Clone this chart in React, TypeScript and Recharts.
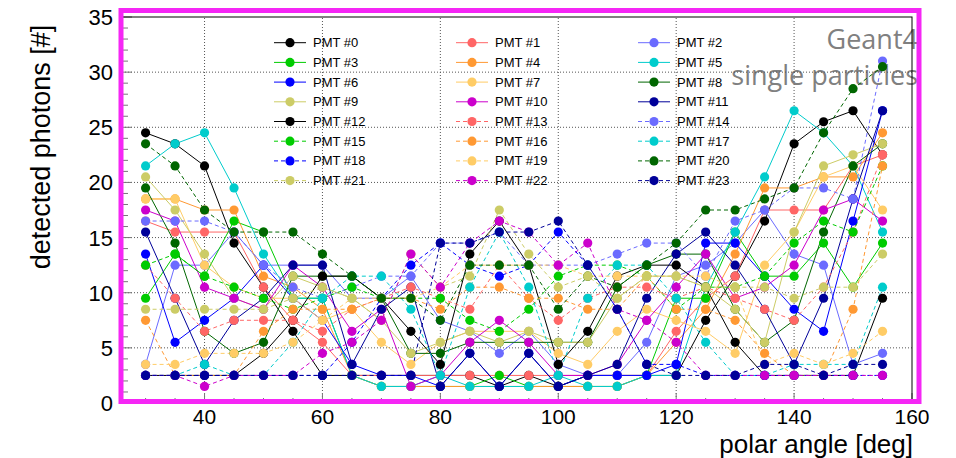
import React from 'react';
import { LineChart, Line, XAxis, YAxis, ReferenceLine } from 'recharts';

// polar angle [deg]
const angles = [30, 35, 40, 45, 50, 55, 60, 65, 70, 75, 80, 85, 90, 95, 100, 105, 110, 115, 120, 125, 130, 135, 140, 145, 150, 155];

const pmt0 = [24.5, 23.5, 21.5, 14.5, 10.5, 6.5, 2.5, 2.5, 2.5, 2.5, 2.5, 2.5, 1.5, 2.5, 1.5, 2.5, 2.5, 2.5, 2.5, 7.5, 11.5, 16.5, 23.5, 25.5, 26.5, 22.5];
const pmt1 = [16.5, 15.5, 15.5, 15.5, 10.5, 7.5, 5.5, 2.5, 2.5, 2.5, 2.5, 2.5, 2.5, 2.5, 2.5, 2.5, 2.5, 2.5, 6.5, 9.5, 11.5, 17.5, 17.5, 17.5, 21.5, 22.5];
const pmt2 = [3.5, 12.5, 12.5, 15.5, 12.5, 12.5, 12.5, 9.5, 9.5, 11.5, 7.5, 6.5, 4.5, 6.5, 3.5, 2.5, 2.5, 5.5, 11.5, 12.5, 14.5, 17.5, 13.5, 12.5, 3.5, 4.5];
const pmt3 = [9.5, 13.5, 11.5, 16.5, 15.5, 9.5, 9.5, 2.5, 1.5, 1.5, 1.5, 1.5, 2.5, 1.5, 1.5, 1.5, 1.5, 2.5, 9.5, 9.5, 15.5, 11.5, 11.5, 14.5, 10.5, 14.5];
const pmt4 = [18.5, 18.5, 17.5, 17.5, 11.5, 10.5, 8.5, 2.5, 1.5, 1.5, 1.5, 1.5, 1.5, 1.5, 1.5, 1.5, 1.5, 2.5, 5.5, 8.5, 13.5, 19.5, 19.5, 20.5, 20.5, 24.5];
const pmt5 = [21.5, 23.5, 24.5, 19.5, 13.5, 9.5, 9.5, 2.5, 1.5, 1.5, 2.5, 1.5, 1.5, 1.5, 2.5, 1.5, 1.5, 2.5, 2.5, 10.5, 15.5, 20.5, 26.5, 24.5, 21.5, 15.5];
const pmt6 = [13.5, 5.5, 7.5, 9.5, 12.5, 9.5, 7.5, 3.5, 2.5, 2.5, 1.5, 4.5, 1.5, 4.5, 1.5, 2.5, 2.5, 2.5, 3.5, 14.5, 14.5, 11.5, 8.5, 6.5, 16.5, 26.5];
const pmt7 = [18.5, 18.5, 12.5, 10.5, 9.5, 9.5, 7.5, 8.5, 5.5, 3.5, 5.5, 6.5, 6.5, 6.5, 4.5, 3.5, 6.5, 8.5, 7.5, 6.5, 4.5, 12.5, 15.5, 20.5, 21.5, 17.5];
const pmt8 = [19.5, 14.5, 6.5, 4.5, 5.5, 11.5, 11.5, 11.5, 9.5, 4.5, 4.5, 5.5, 5.5, 5.5, 5.5, 5.5, 10.5, 12.5, 13.5, 13.5, 8.5, 5.5, 7.5, 15.5, 21.5, 23.5];
const pmt9 = [20.5, 17.5, 13.5, 9.5, 8.5, 11.5, 10.5, 9.5, 7.5, 4.5, 5.5, 6.5, 5.5, 6.5, 5.5, 5.5, 9.5, 11.5, 11.5, 10.5, 8.5, 5.5, 15.5, 21.5, 22.5, 23.5];
const pmt10 = [17.5, 16.5, 10.5, 9.5, 8.5, 12.5, 10.5, 6.5, 8.5, 1.5, 2.5, 5.5, 7.5, 5.5, 2.5, 2.5, 3.5, 7.5, 10.5, 13.5, 9.5, 10.5, 12.5, 17.5, 18.5, 16.5];
const pmt11 = [15.5, 9.5, 3.5, 7.5, 9.5, 12.5, 12.5, 3.5, 8.5, 10.5, 1.5, 4.5, 1.5, 4.5, 1.5, 2.5, 3.5, 9.5, 13.5, 15.5, 12.5, 8.5, 3.5, 9.5, 18.5, 26.5];
const pmt12 = [2.5, 2.5, 2.5, 2.5, 4.5, 7.5, 11.5, 11.5, 9.5, 6.5, 3.5, 13.5, 16.5, 12.5, 3.5, 6.5, 11.5, 12.5, 12.5, 10.5, 5.5, 2.5, 2.5, 2.5, 2.5, 9.5];
const pmt13 = [12.5, 9.5, 6.5, 7.5, 7.5, 7.5, 6.5, 8.5, 9.5, 10.5, 9.5, 8.5, 12.5, 9.5, 7.5, 9.5, 10.5, 10.5, 9.5, 10.5, 9.5, 8.5, 7.5, 10.5, 15.5, 22.5];
const pmt14 = [16.5, 16.5, 16.5, 15.5, 12.5, 10.5, 9.5, 10.5, 11.5, 11.5, 14.5, 14.5, 15.5, 12.5, 12.5, 12.5, 13.5, 14.5, 14.5, 11.5, 16.5, 17.5, 19.5, 19.5, 18.5, 31.0];
const pmt15 = [12.5, 13.5, 11.5, 10.5, 9.5, 8.5, 9.5, 10.5, 9.5, 9.5, 9.5, 7.5, 6.5, 8.5, 11.5, 12.5, 12.5, 11.5, 8.5, 10.5, 10.5, 11.5, 14.5, 16.5, 15.5, 21.5];
const pmt16 = [7.5, 2.5, 2.5, 2.5, 6.5, 8.5, 8.5, 8.5, 9.5, 9.5, 8.5, 10.5, 10.5, 9.5, 9.5, 8.5, 8.5, 11.5, 8.5, 8.5, 7.5, 4.5, 2.5, 2.5, 8.5, 21.5];
const pmt17 = [2.5, 2.5, 3.5, 2.5, 2.5, 5.5, 9.5, 11.5, 11.5, 8.5, 2.5, 10.5, 15.5, 10.5, 2.5, 9.5, 12.5, 12.5, 9.5, 5.5, 2.5, 2.5, 3.5, 3.5, 3.5, 10.5];
const pmt18 = [2.5, 2.5, 2.5, 2.5, 2.5, 2.5, 2.5, 5.5, 9.5, 12.5, 14.5, 12.5, 11.5, 12.5, 15.5, 12.5, 8.5, 3.5, 3.5, 2.5, 2.5, 2.5, 2.5, 2.5, 2.5, 2.5];
const pmt19 = [3.5, 3.5, 4.5, 4.5, 4.5, 5.5, 7.5, 9.5, 9.5, 9.5, 10.5, 12.5, 12.5, 12.5, 12.5, 11.5, 11.5, 11.5, 11.5, 11.5, 10.5, 3.5, 4.5, 3.5, 4.5, 6.5];
const pmt20 = [23.5, 21.5, 17.5, 15.5, 15.5, 15.5, 13.5, 11.5, 9.5, 9.5, 7.5, 12.5, 12.5, 12.5, 8.5, 11.5, 10.5, 12.5, 14.5, 17.5, 17.5, 18.5, 19.5, 24.5, 28.5, 30.5];
const pmt21 = [8.5, 8.5, 8.5, 8.5, 8.5, 9.5, 10.5, 9.5, 7.5, 13.5, 10.5, 11.5, 17.5, 13.5, 10.5, 11.5, 9.5, 11.5, 11.5, 10.5, 10.5, 10.5, 9.5, 10.5, 10.5, 13.5];
const pmt22 = [2.5, 2.5, 1.5, 2.5, 2.5, 2.5, 4.5, 5.5, 7.5, 13.5, 10.5, 14.5, 16.5, 15.5, 12.5, 14.5, 8.5, 7.5, 5.5, 2.5, 2.5, 2.5, 2.5, 2.5, 2.5, 2.5];
const pmt23 = [2.5, 2.5, 2.5, 2.5, 2.5, 2.5, 2.5, 2.5, 2.5, 2.5, 14.5, 14.5, 15.5, 15.5, 16.5, 12.5, 8.5, 3.5, 2.5, 2.5, 2.5, 3.5, 3.5, 2.5, 3.5, 3.5];

const seriesValues = [pmt0, pmt1, pmt2, pmt3, pmt4, pmt5, pmt6, pmt7, pmt8, pmt9, pmt10, pmt11,
  pmt12, pmt13, pmt14, pmt15, pmt16, pmt17, pmt18, pmt19, pmt20, pmt21, pmt22, pmt23];
const seriesNames = ['PMT #0', 'PMT #1', 'PMT #2', 'PMT #3', 'PMT #4', 'PMT #5', 'PMT #6', 'PMT #7',
  'PMT #8', 'PMT #9', 'PMT #10', 'PMT #11', 'PMT #12', 'PMT #13', 'PMT #14', 'PMT #15', 'PMT #16',
  'PMT #17', 'PMT #18', 'PMT #19', 'PMT #20', 'PMT #21', 'PMT #22', 'PMT #23'];

const xTicks = [30, 35, 40, 45, 50, 55, 60, 65, 70, 75, 80, 85, 90, 95, 100, 105, 110, 115, 120, 125, 130, 135, 140, 145, 150, 155, 160];
const xLabelTicks = [40, 60, 80, 100, 120, 140, 160];
const yTicks = [0, 1, 2, 3, 4, 5, 6, 7, 8, 9, 10, 11, 12, 13, 14, 15, 16, 17, 18, 19, 20, 21, 22, 23, 24, 25, 26, 27, 28, 29, 30, 31, 32, 33, 34, 35];
const xGrid = [40, 60, 80, 100, 120, 140];
const yGrid = [5, 10, 15, 20, 25, 30];

const palette = ['#000000', '#ff6666', '#6b6bff', '#00cc00', '#ff9933', '#00cccc',
  '#0000ff', '#ffcc66', '#006600', '#cccc66', '#cc00cc', '#000099'];

const W = 956;
const H = 458;
const PL = 122;
const PR = 912;
const PT = 17;
const PB = 403;
const FONT = '"Liberation Sans", Arial, Helvetica, sans-serif';
const MAGENTA = '#f526f5';

const rows = angles.map((a, i) => {
  const r: Record<string, number> = { angle: a };
  seriesValues.forEach((s, k) => { r['p' + k] = s[i]; });
  return r;
});

const colorOf = (k: number) => palette[k % 12];
const dashOf = (k: number) => (k >= 13 ? '4 3' : undefined);

const YTick = (props: any) => {
  const { y, payload } = props;
  const v = payload.value;
  const major = v % 5 === 0;
  return (
    <g>
      <line x1={PL} x2={PL + (major ? 10 : 6)} y1={y} y2={y} stroke="#777" strokeWidth={1} />
      {major && (
        <text x={113} y={y + 8} textAnchor="end" fontSize={22} fontFamily={FONT} fill="#000">{v}</text>
      )}
    </g>
  );
};

const XTick = (props: any) => {
  const { x, payload } = props;
  const v = payload.value;
  const major = xLabelTicks.includes(v);
  return (
    <g>
      <line x1={x} x2={x} y1={PB} y2={PB - (major ? 10 : 5)} stroke="#777" strokeWidth={1} />
      {major && (
        <text x={x} y={424} textAnchor="middle" fontSize={21} fontFamily={FONT} fill="#000">{v}</text>
      )}
    </g>
  );
};

const legendColsLine = [274, 456, 638];
const legendColsText = [313, 495, 677];
const legendY0 = 42.7;
const legendDy = 19.7;

export default function App() {
  return (
    <div style={{ position: 'absolute', left: 0, top: 0, width: W, height: H, background: '#fff' }}>
      <svg width={W} height={H} style={{ position: 'absolute', left: 0, top: 0 }}>
        <text x={918} y={49} textAnchor="end" fontSize={27} fontFamily='"Open Sans", sans-serif' fill="#808080">Geant4</text>
        <text x={918} y={85} textAnchor="end" fontSize={27} fontFamily='"Open Sans", sans-serif' fill="#808080">single particles</text>
      </svg>
      <div style={{ position: 'absolute', left: 0, top: 0 }}>
        <LineChart width={W} height={H} data={rows} margin={{ top: PT, right: W - PR, bottom: 0, left: 0 }}>
          <XAxis dataKey="angle" type="number" domain={[26, 160]} allowDataOverflow ticks={xTicks}
            interval={0} tick={<XTick />} tickLine={false} axisLine={false} height={H - PB} />
          <YAxis type="number" domain={[0, 35]} allowDataOverflow ticks={yTicks} interval={0}
            tick={<YTick />} tickLine={false} axisLine={false} width={PL} />
          {xGrid.map((g) => (
            <ReferenceLine key={'gx' + g} x={g} stroke="#555" strokeDasharray="1 2" strokeWidth={1} />
          ))}
          {yGrid.map((g) => (
            <ReferenceLine key={'gy' + g} y={g} stroke="#555" strokeDasharray="1 2" strokeWidth={1} />
          ))}
          {seriesValues.map((_, k) => (
            <Line key={k} dataKey={'p' + k} name={seriesNames[k]} type="linear"
              stroke={colorOf(k)} strokeWidth={1} strokeDasharray={dashOf(k)}
              dot={{ r: 4.6, fill: colorOf(k), stroke: colorOf(k), strokeWidth: 0, strokeDasharray: '' }}
              activeDot={false} isAnimationActive={false} />
          ))}
        </LineChart>
      </div>
      <svg width={W} height={H} style={{ position: 'absolute', left: 0, top: 0, pointerEvents: 'none' }}>
        {seriesNames.map((n, k) => {
          const c = k % 3;
          const r = Math.floor(k / 3);
          const y = legendY0 + r * legendDy;
          const x0 = legendColsLine[c];
          return (
            <g key={n}>
              <line x1={x0} x2={x0 + 32} y1={y} y2={y} stroke={colorOf(k)} strokeWidth={1} strokeDasharray={dashOf(k)} />
              <circle cx={x0 + 16} cy={y} r={4.6} fill={colorOf(k)} />
              <text x={legendColsText[c]} y={y + 4.5} fontSize={13} fontFamily={FONT} fill="#000">{n}</text>
            </g>
          );
        })}
        <rect x={PL} y={PT} width={PR - PL} height={PB - PT} fill="none" stroke="#000" strokeWidth={1} />
        <rect x={121} y={10.5} width={798} height={391} fill="none" stroke={MAGENTA} strokeWidth={5} />
        <text transform="translate(50,147) rotate(-90)" textAnchor="middle" fontSize={27} fontFamily={FONT} fill="#000">detected photons [#]</text>
        <text x={913} y={453} textAnchor="end" fontSize={26} fontFamily={FONT} fill="#000">polar angle [deg]</text>
      </svg>
    </div>
  );
}
